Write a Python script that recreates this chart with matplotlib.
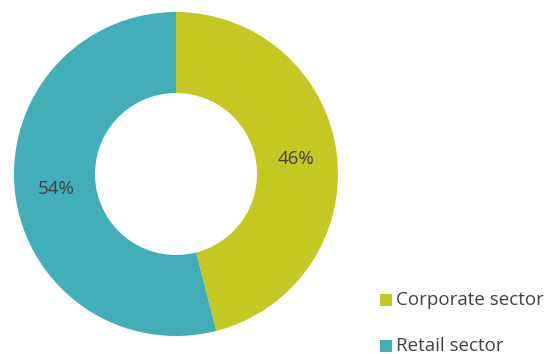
import matplotlib.pyplot as plt
from matplotlib.patches import Rectangle

plt.rcParams['font.family'] = ['Open Sans', 'DejaVu Sans']

sectors = ['Corporate sector', 'Retail sector']
shares = [46, 54]
colors = ['#C3C922', '#42AFB8']
text_color = '#404040'

W, H = 550, 354
fig = plt.figure(figsize=(W / 100, H / 100), dpi=100)
ax = fig.add_axes([14 / W, 18 / H, 324 / W, 324 / H])

wedges, texts = ax.pie(shares, colors=colors, startangle=90, counterclock=False,
                       labels=[f'{s}%' for s in shares], labeldistance=0.745,
                       wedgeprops={'width': 0.5, 'linewidth': 0},
                       textprops={'fontsize': 13.5, 'color': text_color,
                                  'ha': 'center', 'va': 'center'})
ax.set_xlim(-1, 1)
ax.set_ylim(-1, 1)
ax.set_aspect('equal')

# legend drawn by hand: square swatch + label, one row per sector
for i, (name, col) in enumerate(zip(sectors, colors)):
    yc = 1 - (300 + 46 * i) / H
    fig.patches.append(Rectangle((380 / W, yc - 6 / H), 12 / W, 12 / H,
                                 transform=fig.transFigure, facecolor=col,
                                 edgecolor='none'))
    fig.text(396 / W, yc, name, fontsize=13.5, color=text_color,
             ha='left', va='center')

plt.savefig('out.png', dpi=100)
plt.close()
